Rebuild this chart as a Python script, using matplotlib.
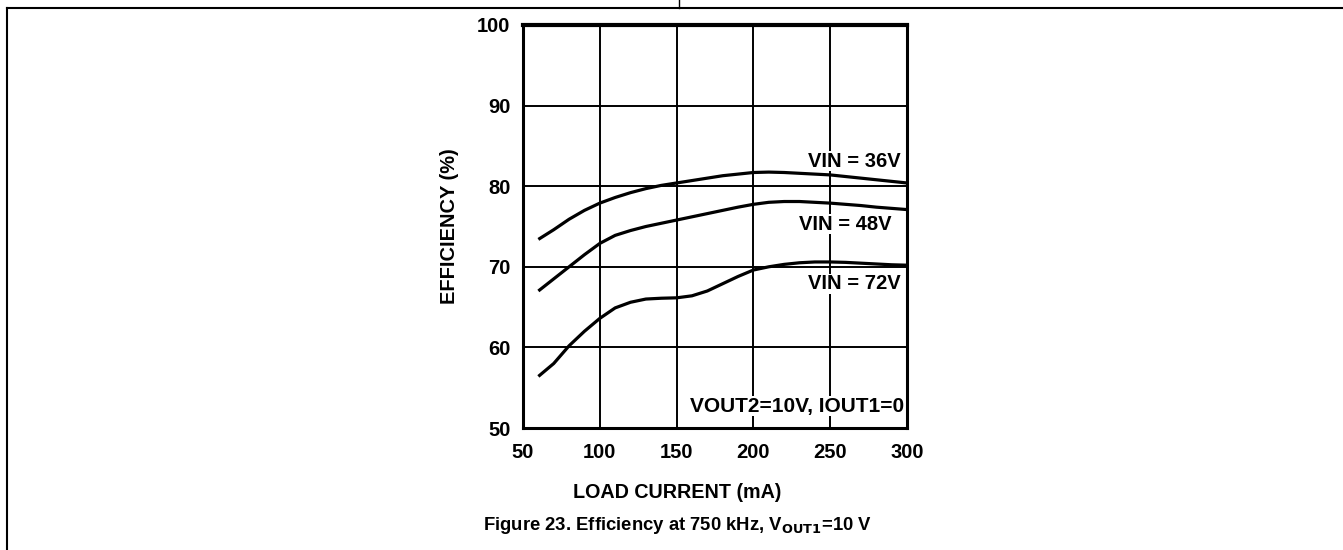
import matplotlib
matplotlib.use("Agg")
import matplotlib.pyplot as plt
from matplotlib.lines import Line2D

plt.rcParams['font.family'] = ['Liberation Sans', 'DejaVu Sans']

load_ma = [60, 70, 80, 90, 100, 110, 120, 130, 140, 150, 160, 170, 180,
           190, 200, 210, 220, 230, 240, 250, 260, 270, 280, 290, 300]
eff_36v = [73.4, 74.6, 75.9, 77.0, 77.9, 78.6, 79.2, 79.7, 80.1, 80.4, 80.7, 81.0, 81.3,
           81.5, 81.7, 81.75, 81.7, 81.6, 81.5, 81.4, 81.2, 81.0, 80.8, 80.6, 80.4]
eff_48v = [67.0, 68.5, 70.0, 71.5, 72.9, 73.9, 74.5, 75.0, 75.4, 75.8, 76.2, 76.6, 77.0,
           77.4, 77.75, 78.0, 78.1, 78.1, 78.0, 77.9, 77.75, 77.6, 77.4, 77.25, 77.1]
eff_72v = [56.4, 58.0, 60.2, 62.0, 63.6, 64.9, 65.6, 66.0, 66.1, 66.15, 66.4, 67.0, 67.9,
           68.8, 69.6, 70.0, 70.3, 70.5, 70.6, 70.6, 70.55, 70.45, 70.35, 70.25, 70.2]
x_ticks = [50, 100, 150, 200, 250, 300]
y_ticks = [50, 60, 70, 80, 90, 100]
labels = ["VIN = 36V", "VIN = 48V", "VIN = 72V"]

fig = plt.figure(figsize=(13.43, 5.5), dpi=100)
ax = fig.add_axes([523/1343, 1-428/550, 384/1343, 403/550])

ax.set_xlim(50, 300)
ax.set_ylim(50, 100)
ax.set_xticks(x_ticks)
ax.set_yticks(y_ticks)
ax.set_xticklabels([str(v) for v in x_ticks], fontsize=14.5, fontweight='bold')
ax.set_yticklabels([str(v) for v in y_ticks], fontsize=14.5, fontweight='bold')
ax.tick_params(length=0, pad=9)
ax.tick_params(axis='x', pad=11)
ax.grid(True, color='black', linewidth=1.4)
ax.set_axisbelow(True)
for s in ax.spines.values():
    s.set_linewidth(2.2)
ax.spines['top'].set_linewidth(3.0)

for ys in (eff_36v, eff_48v, eff_72v):
    ax.plot(load_ma, ys, color='black', linewidth=2.3, solid_capstyle='butt')

bb = dict(facecolor='white', edgecolor='none', pad=0.5)
ax.text(296, 83.1, labels[0], ha='right', va='center', fontsize=14.5, fontweight='bold', bbox=bb)
ax.text(290, 75.3, labels[1], ha='right', va='center', fontsize=14.5, fontweight='bold', bbox=bb)
ax.text(296, 67.9, labels[2], ha='right', va='center', fontsize=14.5, fontweight='bold', bbox=bb)
ax.text(298, 52.7, "VOUT2=10V, IOUT1=0", ha='right', va='center', fontsize=15,
        fontweight='bold', bbox=bb)

ax.set_ylabel("EFFICIENCY (%)", fontsize=14.4, fontweight='bold', labelpad=13)
fig.text(677/1343, 1-493/550, "LOAD CURRENT (mA)", ha='center', va='center',
         fontsize=14.2, fontweight='bold')
fig.text(677/1343, 1-526/550, r"Figure 23. Efficiency at 750 kHz, V$_{\mathbf{OUT1}}$=10 V",
         ha='center', va='center', fontsize=13.3, fontweight='bold')

# page frame lines
fig.add_artist(Line2D([7/1343, 1], [1-8/550, 1-8/550], color='black', linewidth=1.5))
fig.add_artist(Line2D([7/1343, 7/1343], [0, 1-8/550], color='black', linewidth=1.5))
fig.add_artist(Line2D([679/1343, 679/1343], [1-8/550, 1], color='black', linewidth=1.0))

fig.savefig("out.png", dpi=100)
